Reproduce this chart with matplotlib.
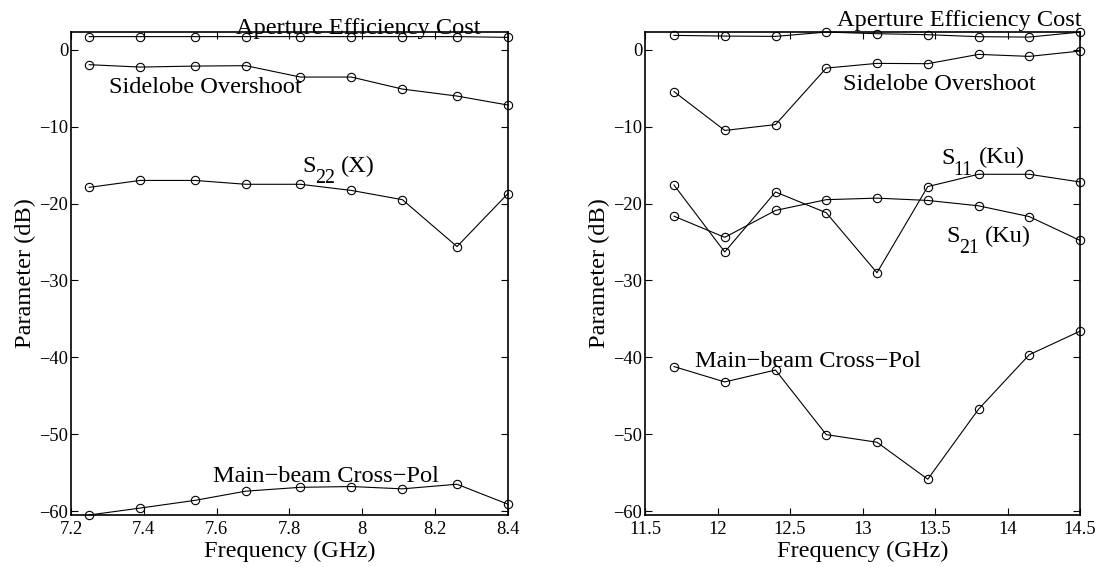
import matplotlib
matplotlib.use("Agg")
import matplotlib.pyplot as plt
from matplotlib.ticker import FuncFormatter
from matplotlib.transforms import offset_copy

plt.rcParams['font.family'] = ['Liberation Serif', 'DejaVu Serif']

# X band (left panel)
freq_x = [7.25, 7.39, 7.54, 7.68, 7.83, 7.97, 8.11, 8.26, 8.40]
aperture_x = [1.7, 1.7, 1.7, 1.7, 1.7, 1.7, 1.7, 1.7, 1.6]
sidelobe_x = [-1.95, -2.26, -2.13, -2.08, -3.56, -3.56, -5.12, -6.03, -7.2]
s22_x = [-17.9, -17.0, -17.0, -17.5, -17.5, -18.3, -19.5, -25.6, -18.7]
xpol_x = [-60.5, -59.6, -58.6, -57.4, -56.9, -56.8, -57.1, -56.5, -59.1]

# Ku band (right panel)
freq_ku = [11.70, 12.05, 12.40, 12.75, 13.10, 13.45, 13.80, 14.15, 14.50]
aperture_ku = [1.86, 1.77, 1.73, 2.29, 2.08, 1.95, 1.69, 1.64, 2.29]
sidelobe_ku = [-5.45, -10.5, -9.74, -2.39, -1.78, -1.82, -0.61, -0.87, -0.18]
s11_ku = [-17.6, -26.3, -18.5, -21.2, -29.0, -17.8, -16.2, -16.2, -17.2]
s21_ku = [-21.65, -24.4, -20.9, -19.5, -19.3, -19.6, -20.3, -21.7, -24.8]
xpol_ku = [-41.2, -43.2, -41.65, -50.05, -51.04, -55.85, -46.75, -39.66, -36.6]

fs_big = 17.6
fs_sub = 14.4
fs_tick = 13.3

fig = plt.figure(figsize=(11.01, 5.67), dpi=100)
ax1 = fig.add_axes([71/1101, 1 - 515/567, 437/1101, 483/567])
ax2 = fig.add_axes([645/1101, 1 - 515/567, 435/1101, 483/567])
renderer = fig.canvas.get_renderer()

style = dict(color='black', linewidth=0.8, marker='o', markersize=6,
             markerfacecolor='none', markeredgewidth=0.8, clip_on=False)

for y in [aperture_x, sidelobe_x, s22_x, xpol_x]:
    ax1.plot(freq_x, y, **style)
for y in [aperture_ku, sidelobe_ku, s11_ku, s21_ku, xpol_ku]:
    ax2.plot(freq_ku, y, **style)

ax1.set_xlim(7.2, 8.4)
ax1.set_xticks([7.2, 7.4, 7.6, 7.8, 8.0, 8.2, 8.4])
ax2.set_xlim(11.5, 14.5)
ax2.set_xticks([11.5, 12, 12.5, 13, 13.5, 14, 14.5])
for ax in (ax1, ax2):
    ax.set_ylim(-60.5, 2.3)


def sub_label(ax, x, y, main, sub, rest):
    # MATLAB-like S_{nn} label: big subscript, dropped low
    t1 = ax.text(x, y, main, fontsize=fs_big, va='baseline')
    w1 = t1.get_window_extent(renderer).width
    tr = offset_copy(ax.transData, fig=fig, x=w1 * 72 / fig.dpi - 0.5,
                     y=-11 * 72 / fig.dpi, units='points')
    t2 = ax.text(x, y, sub, fontsize=fs_sub, va='baseline', transform=tr)
    w2 = t2.get_window_extent(renderer).width
    tr3 = offset_copy(ax.transData, fig=fig,
                      x=(w1 + w2 + 6) * 72 / fig.dpi - 0.5, y=0, units='points')
    ax.text(x, y, rest, fontsize=fs_big, va='baseline', transform=tr3)


# labels on curves
ax1.text(7.653, 2.1, 'Aperture Efficiency Cost', fontsize=fs_big, va='baseline')
ax1.text(7.304, -5.6, 'Sidelobe Overshoot', fontsize=fs_big, va='baseline')
sub_label(ax1, 7.834, -15.9, 'S', '22', '(X)')
ax1.text(7.591, -56.15, 'Main\u2212beam Cross\u2212Pol', fontsize=fs_big, va='baseline')

ax2.text(12.822, 3.1, 'Aperture Efficiency Cost', fontsize=fs_big, va='baseline')
ax2.text(12.868, -5.29, 'Sidelobe Overshoot', fontsize=fs_big, va='baseline')
sub_label(ax2, 13.541, -14.8, 'S', '11', '(Ku)')
sub_label(ax2, 13.58, -25.0, 'S', '21', '(Ku)')
ax2.text(11.845, -41.2, 'Main\u2212beam Cross\u2212Pol', fontsize=fs_big, va='baseline')

fmt = FuncFormatter(lambda v, p: ('%g' % v).replace('-', '\u2212'))
for ax in (ax1, ax2):
    ax.set_yticks([0, -10, -20, -30, -40, -50, -60])
    ax.xaxis.set_major_formatter(fmt)
    ax.yaxis.set_major_formatter(fmt)
    ax.tick_params(direction='in', top=True, right=True, labelsize=fs_tick,
                   length=5, width=0.8)
    ax.tick_params(axis='x', pad=4)
    ax.tick_params(axis='y', pad=2)
    for s in ax.spines.values():
        s.set_linewidth(1.2)
    ax.set_xlabel('Frequency (GHz)', fontsize=fs_big, labelpad=2)
    ax.set_ylabel('Parameter (dB)', fontsize=fs_big, labelpad=2)

fig.savefig('out.png', dpi=100)
